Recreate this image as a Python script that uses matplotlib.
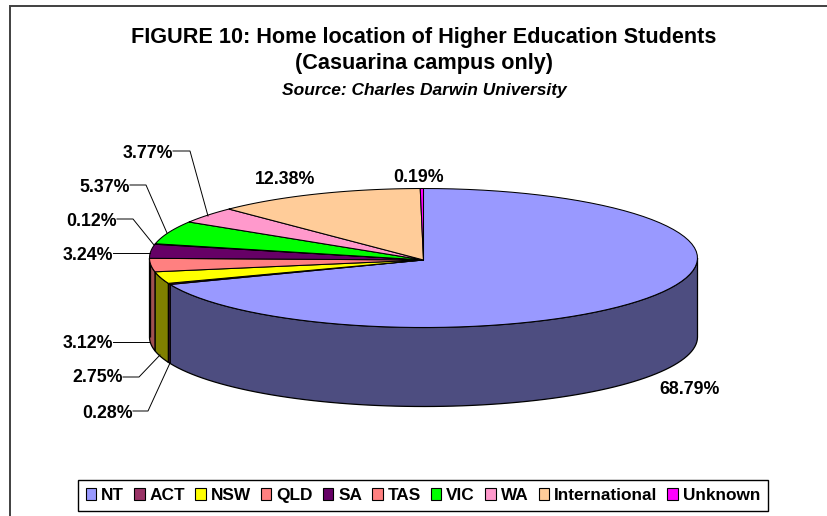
import numpy as np
import matplotlib
matplotlib.use("Agg")
import matplotlib.pyplot as plt
from matplotlib.patches import Patch, Polygon

plt.rcParams["font.family"] = ["Liberation Sans", "DejaVu Sans"]

categories = ["NT", "ACT", "NSW", "QLD", "SA", "TAS", "VIC", "WA", "International", "Unknown"]
values = [68.79, 0.28, 2.75, 3.12, 3.24, 0.12, 5.37, 3.77, 12.38, 0.19]
top_colors = ["#9999FF", "#993366", "#FFFF00", "#FF8080", "#660066",
              "#FF8080", "#00FF00", "#FF99CC", "#FFCC99", "#FF00FF"]
side_colors = ["#4D4D80", "#4D1A33", "#808000", "#A05050", "#330033",
               "#804040", "#008000", "#804D66", "#80664D", "#800080"]

# pie geometry in image pixels
cx, cy = 423.5, 258.0
rx, ry = 274.0, 69.5
depth = 79.0

# label text pos (x, y, ha) and leader line, same order as values
label_pos = [(720, 389, "right"), (133, 413, "right"), (123, 378, "right"),
             (113, 344, "right"), (113, 256, "right"), (117, 221, "right"),
             (130, 187, "right"), (173, 153, "right"), (285, 180, "center"),
             (419, 177, "center")]
leaders = [None,
           [(133, 411), (148, 411), (170, 363)],
           [(123, 377), (139, 377), (160, 355)],
           [(113, 342), (150, 342)],
           [(113, 253), (150, 253)],
           [(117, 219), (133, 219), (154, 245)],
           [(130, 185), (146, 185), (167, 233)],
           [(173, 151), (190, 151), (208, 216)],
           None, None]


def rim(t0, t1, n=80):
    t = np.radians(np.linspace(t0, t1, n))
    return np.column_stack([cx + rx * np.sin(t), cy - ry * np.cos(t)])


fig = plt.figure(figsize=(8.27, 5.16), dpi=100)
ax = fig.add_axes([0, 0, 1, 1])
ax.set_xlim(0, 827)
ax.set_ylim(516, 0)
ax.axis("off")

# chart frame, cropped at right and bottom
ax.plot([10, 10, 827], [516, 5.5, 5.5], color="#404040", lw=1.4, solid_joinstyle="miter")

edges = np.concatenate([[0], np.cumsum(values)]) / sum(values) * 360

# side wall first: only the front half (90..270 deg) is visible
for i in range(len(values)):
    t0, t1 = max(edges[i], 90), min(edges[i + 1], 270)
    if t1 <= t0:
        continue
    arc = rim(t0, t1)
    wall = np.vstack([arc, arc[::-1] + [0, depth]])
    ax.add_patch(Polygon(wall, closed=True, fc=side_colors[i], ec="black", lw=0.9))

# top face
for i in range(len(values)):
    poly = np.vstack([[cx, cy + 2], rim(edges[i], edges[i + 1])])
    ax.add_patch(Polygon(poly, closed=True, fc=top_colors[i], ec="black", lw=0.75,
                         joinstyle="round"))

for v, (x, y, ha), pts in zip(values, label_pos, leaders):
    ax.text(x, y, f"{v:.2f}%", ha=ha, va="center", fontsize=12.8, fontweight="bold")
    if pts:
        px, py = zip(*pts)
        ax.plot(px, py, color="black", lw=0.7)

ax.text(424, 37.5, "FIGURE 10: Home location of Higher Education Students", ha="center",
        va="center", fontsize=15.6, fontweight="bold")
ax.text(424, 63, "(Casuarina campus only)", ha="center", va="center", fontsize=15.6,
        fontweight="bold")
ax.text(424, 91, "Source: Charles Darwin University", ha="center", va="center", fontsize=12.5,
        fontweight="bold", fontstyle="italic")

handles = [Patch(fc=c, ec="black", lw=0.8) for c in top_colors]
leg = ax.legend(handles, categories, ncol=len(categories), loc="center",
                bbox_to_anchor=(423, 495.5), bbox_transform=ax.transData,
                prop={"weight": "bold", "size": 12.4}, frameon=True,
                fancybox=False, edgecolor="black", framealpha=1,
                handlelength=0.6, handleheight=0.62, handletextpad=0.28,
                columnspacing=0.6, borderpad=0.45, borderaxespad=0)
leg.get_frame().set_linewidth(1.0)

fig.savefig("out.png", dpi=100)
